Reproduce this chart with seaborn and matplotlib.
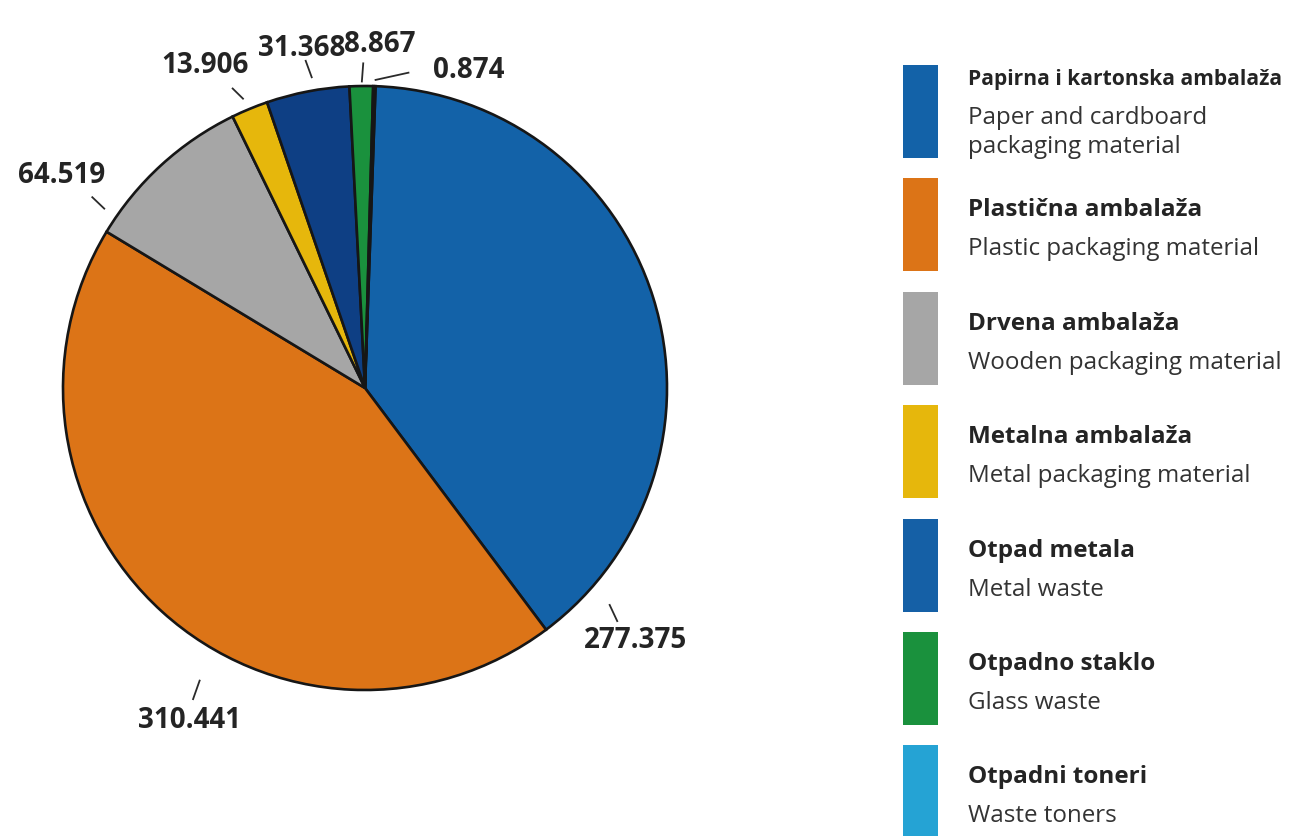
import numpy as np
import matplotlib
matplotlib.use("Agg")
import matplotlib.pyplot as plt
from matplotlib import font_manager
from matplotlib.patches import Rectangle
import seaborn as sns

# Packaging and waste quantities by category
titles_sr = [
    "Papirna i kartonska ambalaža",
    "Plastična ambalaža",
    "Drvena ambalaža",
    "Metalna ambalaža",
    "Otpad metala",
    "Otpadno staklo",
    "Otpadni toneri",
]
titles_en = [
    ["Paper and cardboard", "packaging material"],
    ["Plastic packaging material"],
    ["Wooden packaging material"],
    ["Metal packaging material"],
    ["Metal waste"],
    ["Glass waste"],
    ["Waste toners"],
]
values = [277.375, 310.441, 64.519, 13.906, 31.368, 8.867, 0.874]

# Styling
wedge_colors = ["#1362a8", "#dc7417", "#a6a6a6", "#e6b70c", "#0e3f84", "#1a913d", "#25a3d4"]
swatch_colors = ["#1362a8", "#dc7417", "#a6a6a6", "#e6b70c", "#1560a6", "#1a913d", "#25a3d4"]
text_color = "#242424"

# Label leader lines and text, in polar form (angle in degrees, radius in pie radii)
label_layout = [
    dict(lead=((-41.5, 1.08), (-42.8, 1.14)), text=(-43.0, 1.225)),
    dict(lead=((-119.5, 1.11), (-118.9, 1.18)), text=(-117.8, 1.243)),
    dict(lead=((145.5, 1.045), (145.0, 1.105)), text=(144.9, 1.226)),
    dict(lead=((112.8, 1.037), (113.9, 1.087)), text=(116.3, 1.193)),
    dict(lead=((99.7, 1.041), (100.3, 1.104)), text=(100.5, 1.145)),
    dict(lead=((90.6, 1.012), (90.3, 1.078)), text=(87.5, 1.137)),
    dict(lead=((88.2, 1.02), (82.0, 1.055)), text=(72.0, 1.107)),
]

sns.set_theme(style="white")


def pick_family(candidates):
    # first family that ships a real bold face
    for fam in candidates:
        weights = [f.weight for f in font_manager.fontManager.ttflist if f.name == fam]
        if any((w if isinstance(w, int) else 700 if "bold" in str(w).lower() else 400) >= 600
               for w in weights):
            return fam
    return "DejaVu Sans"


family = pick_family(["Noto Sans", "Open Sans", "Lato", "Roboto"])
plt.rcParams["font.family"] = [family, "DejaVu Sans"]

W, H = 1291, 836
fig = plt.figure(figsize=(W / 100, H / 100), dpi=100)
fig.patch.set_facecolor("white")

# Overlay in pixel units for the legend column
lax = fig.add_axes([0, 0, 1, 1], zorder=0)
lax.set_xlim(0, W)
lax.set_ylim(H, 0)
lax.axis("off")
lax.patch.set_alpha(0)

# Pie axes: centre (365, 388) px, radius 302 px
cx, cy, R = 365, 388, 302
ax = fig.add_axes([(cx - R) / W, (H - cy - R) / H, 2 * R / W, 2 * R / H], zorder=1)
ax.patch.set_alpha(0)

wedges, _ = ax.pie(
    values,
    colors=wedge_colors,
    startangle=88,
    counterclock=False,
    radius=1.0,
    wedgeprops=dict(edgecolor="#161616", linewidth=1.9),
)
ax.set_xlim(-1, 1)
ax.set_ylim(-1, 1)
ax.set_aspect("equal")
ax.axis("off")


def polar(a, r):
    t = np.deg2rad(a)
    return r * np.cos(t), r * np.sin(t)


for v, lay in zip(values, label_layout):
    (a0, r0), (a1, r1) = lay["lead"]
    x0, y0 = polar(a0, r0)
    x1, y1 = polar(a1, r1)
    ax.plot([x0, x1], [y0, y1], color="#2a2a2a", lw=1.3, clip_on=False,
            solid_capstyle="butt")
    tx, ty = polar(*lay["text"])
    ax.text(tx, ty, f"{v:.3f}", ha="center", va="center", fontsize=20,
            fontweight="bold", color=text_color, clip_on=False)

# Legend column
renderer = fig.canvas.get_renderer()
box_x, box_w, box_h = 903, 35, 93
first_top, pitch = 65, 113.4
text_x = 968
max_title_w = 314

for i, (sr, en, col) in enumerate(zip(titles_sr, titles_en, swatch_colors)):
    top = first_top + i * pitch
    lax.add_patch(Rectangle((box_x, top), box_w, box_h, facecolor=col,
                            edgecolor="none", clip_on=False))
    n = len(en)
    title_y = top + 32 if n == 1 else top + 14
    t = lax.text(text_x, title_y, sr, ha="left", va="center", fontsize=17.5,
                 fontweight="bold", color=text_color)
    bb = t.get_window_extent(renderer=renderer)
    if bb.width > max_title_w:
        t.set_fontsize(17.5 * max_title_w / bb.width)
    for j, line in enumerate(en):
        lax.text(text_x, title_y + 39 + j * 29, line, ha="left", va="center",
                 fontsize=17.4, color="#333333")

fig.savefig("out.png", dpi=100, facecolor="white")
